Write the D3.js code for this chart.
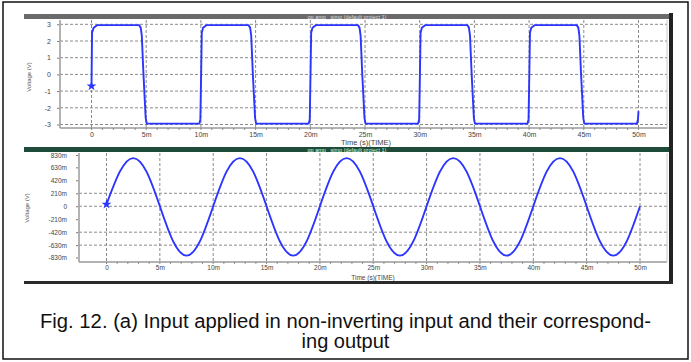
<!DOCTYPE html>
<html><head><meta charset="utf-8">
<script src="https://cdn.jsdelivr.net/npm/d3@7"></script>
<style>
html,body{margin:0;padding:0;background:#fff;}
svg{display:block;font-family:"Liberation Sans",Arial,sans-serif;}
</style></head>
<body>
<svg id="c" width="691" height="362"></svg>
<script>
// ---------- data ----------
const timeTicks = [0,5,10,15,20,25,30,35,40,45,50];
const timeTickLabels = ["0","5m","10m","15m","20m","25m","30m","35m","40m","45m","50m"];
const inputTicks = [3,2,1,0,-1,-2,-3];
const inputTickLabels = ["3","2","1","0","-1","-2","-3"];
const outputTicks = [0.83,0.63,0.42,0.21,0,-0.21,-0.42,-0.63,-0.83];
const outputTickLabels = ["830m","630m","420m","210m","0","-210m","-420m","-630m","-830m"];
const outputGrid = [0.21,0,-0.42,-0.63];
// input square wave (time in ms, volts)
const inputTime = [
 0,0.05,0.2,0.5, 4.35,4.5,4.6,4.75,4.95,5.05,
 9.85,9.95,10.02,10.08,10.2,10.5, 14.35,14.5,14.6,14.75,14.95,15.05,
 19.85,19.95,20.02,20.08,20.2,20.5, 24.35,24.5,24.6,24.75,24.95,25.05,
 29.85,29.95,30.02,30.08,30.2,30.5, 34.35,34.5,34.6,34.75,34.95,35.05,
 39.85,39.95,40.02,40.08,40.2,40.5, 44.35,44.5,44.6,44.75,44.95,45.05,
 49.85,49.95,50
];
const inputVolt = [
 -0.7,2.5,2.8,2.95, 2.95,2.8,2.3,0,-2.6,-2.95,
 -2.95,-2.7,0,2.5,2.8,2.95, 2.95,2.8,2.3,0,-2.6,-2.95,
 -2.95,-2.7,0,2.5,2.8,2.95, 2.95,2.8,2.3,0,-2.6,-2.95,
 -2.95,-2.7,0,2.5,2.8,2.95, 2.95,2.8,2.3,0,-2.6,-2.95,
 -2.95,-2.7,0,2.5,2.8,2.95, 2.95,2.8,2.3,0,-2.6,-2.95,
 -2.95,-2.7,-2.2
];
// output sine wave samples (every 1.25 ms)
const outputTime = [0,1.25,2.5,3.75,5,6.25,7.5,8.75,10,11.25,12.5,13.75,15,16.25,17.5,18.75,
 20,21.25,22.5,23.75,25,26.25,27.5,28.75,30,31.25,32.5,33.75,35,36.25,37.5,38.75,
 40,41.25,42.5,43.75,45,46.25,47.5,48.75,50];
const outputVolt = [0.03,0.56,0.78,0.56,0,-0.57,-0.80,-0.57,
 0,0.56,0.78,0.56,0,-0.57,-0.80,-0.57,
 0,0.56,0.78,0.56,0,-0.57,-0.80,-0.57,
 0,0.56,0.78,0.56,0,-0.57,-0.80,-0.57,
 0,0.56,0.78,0.56,0,-0.57,-0.80,-0.57,0];
const panelTitle = "op amp_ simo (default project 1)";
const xTitle = "Time (s)(TIME)";
const yTitle = "Voltage (V)";
const caption1 = "Fig. 12. (a) Input applied in non-inverting input and their correspond-";
const caption2 = "ing output";

// ---------- drawing ----------
const svg = d3.select("#c");
const LINE = "#2b35ff";
const GRID = "#8a8a8a";
const AX = "#9a9a9a";

// outer border
svg.append("rect").attr("x",3).attr("y",2).attr("width",685).attr("height",357)
  .attr("fill","none").attr("stroke","#111").attr("stroke-width",1.5);

function panel(o){
  const g = svg.append("g");
  // title bar
  g.append("rect").attr("x",24).attr("y",o.barY).attr("width",645).attr("height",o.barH).attr("fill",o.barColor);
  g.append("text").attr("x",347).attr("y",o.barY+o.barH/2+2).attr("text-anchor","middle")
    .attr("font-size",5.5).attr("fill",o.barText).text(panelTitle);
  const x = d3.scaleLinear().domain([0,50]).range(o.xr);
  const y = d3.scaleLinear().domain(o.yd).range(o.yr);
  // grid
  g.selectAll(".hg").data(o.hgrid).join("line")
    .attr("x1",o.left).attr("x2",667).attr("y1",d=>y(d)).attr("y2",d=>y(d))
    .attr("stroke",GRID).attr("stroke-width",1).attr("stroke-dasharray","3,2");
  g.selectAll(".vg").data(timeTicks).join("line")
    .attr("x1",d=>x(d)).attr("x2",d=>x(d)).attr("y1",o.top).attr("y2",o.bottom)
    .attr("stroke",GRID).attr("stroke-width",1).attr("stroke-dasharray","3,2");
  // frame
  g.append("line").attr("x1",o.left).attr("x2",o.left).attr("y1",o.top).attr("y2",o.bottom)
    .attr("stroke",AX).attr("stroke-width",1.5);
  g.append("line").attr("x1",o.left).attr("x2",667).attr("y1",o.bottom).attr("y2",o.bottom)
    .attr("stroke",AX).attr("stroke-width",1.5);
  g.append("line").attr("x1",667).attr("x2",667).attr("y1",o.top).attr("y2",o.bottom)
    .attr("stroke","#c8c8c8").attr("stroke-width",1);
  // minor ticks x
  const minorX = d3.range(0,50.01,1);
  g.selectAll(".mx").data(minorX).join("line")
    .attr("x1",d=>x(d)).attr("x2",d=>x(d)).attr("y1",o.bottom).attr("y2",o.bottom+2)
    .attr("stroke","#777").attr("stroke-width",0.8);
  // y axis ticks
  const ya = d3.axisLeft(y).tickValues(o.yticks).tickFormat((d,i)=>o.ylabels[i]).tickSize(2).tickPadding(o.ypad);
  const yg = g.append("g").attr("transform",`translate(${o.left-1},0)`).call(ya);
  yg.select(".domain").remove();
  yg.selectAll("line").attr("stroke","#777");
  yg.selectAll("text").attr("font-size",o.yfs).attr("fill","#444").attr("font-family","Liberation Sans, Arial");
  // x axis labels
  const xa = d3.axisBottom(x).tickValues(timeTicks).tickFormat((d,i)=>timeTickLabels[i]).tickSize(0).tickPadding(o.xpad);
  const xg = g.append("g").attr("transform",`translate(0,${o.bottom})`).call(xa);
  xg.select(".domain").remove();
  xg.selectAll("text").attr("font-size",o.xfs).attr("fill","#444").attr("font-family","Liberation Sans, Arial");
  // titles
  g.append("text").attr("transform",`translate(${o.ytx},${o.yty}) rotate(-90)`).attr("text-anchor","middle")
    .attr("font-size",6).attr("fill","#555").text(yTitle);
  g.append("text").attr("x",o.xtx).attr("y",o.xty).attr("text-anchor","middle")
    .attr("font-size",o.xtfs).attr("fill","#444").text(xTitle);
  // line
  const pts = o.tx.map((t,i)=>[t,o.vy[i]]);
  const line = d3.line().x(d=>x(d[0])).y(d=>y(d[1])).curve(o.curve);
  g.append("path").datum(pts).attr("d",line).attr("fill","none")
    .attr("stroke",LINE).attr("stroke-width",1.9).attr("stroke-linejoin","round");
  g.append("path").attr("d",d3.symbol(d3.symbolStar,30)())
    .attr("transform",`translate(${x(pts[0][0])},${y(pts[0][1])})`).attr("fill",LINE);
}

panel({barY:14,barH:5,barColor:"#6a6a6a",barText:"#ddd",
  left:60,top:20,bottom:128,xr:[91.5,638.5],yd:[-3,3],yr:[124.5,24.3],
  hgrid:inputTicks,yticks:inputTicks,ylabels:inputTickLabels,ypad:6,yfs:7,
  xpad:4,xfs:7,xtfs:7.5,
  ytx:31,yty:77,xtx:366,xty:145,tx:inputTime,vy:inputVolt,curve:d3.curveLinear});
panel({barY:147,barH:5,barColor:"#1f4b3a",barText:"#cfd",
  left:79,top:153,bottom:262,xr:[106.5,640],yd:[-0.83,0.83],yr:[257.5,155],
  hgrid:outputGrid,yticks:outputTicks,ylabels:outputTickLabels,ypad:9,yfs:6.5,
  xpad:3,xfs:6.5,xtfs:6.5,
  ytx:29,yty:208,xtx:373,xty:279.5,tx:outputTime,vy:outputVolt,curve:d3.curveNatural});

// dark panel borders
svg.append("rect").attr("x",669).attr("y",13).attr("width",4).attr("height",271).attr("fill","#222");
svg.append("rect").attr("x",24).attr("y",281).attr("width",649).attr("height",3).attr("fill","#2a2a2a");

// caption
svg.append("text").attr("x",345.5).attr("y",328).attr("text-anchor","middle")
  .attr("font-size",20).attr("textLength",611).attr("lengthAdjust","spacingAndGlyphs")
  .attr("fill","#111").text(caption1);
svg.append("text").attr("x",345.5).attr("y",348).attr("text-anchor","middle")
  .attr("font-size",20).attr("fill","#111").text(caption2);
</script>
</body></html>
